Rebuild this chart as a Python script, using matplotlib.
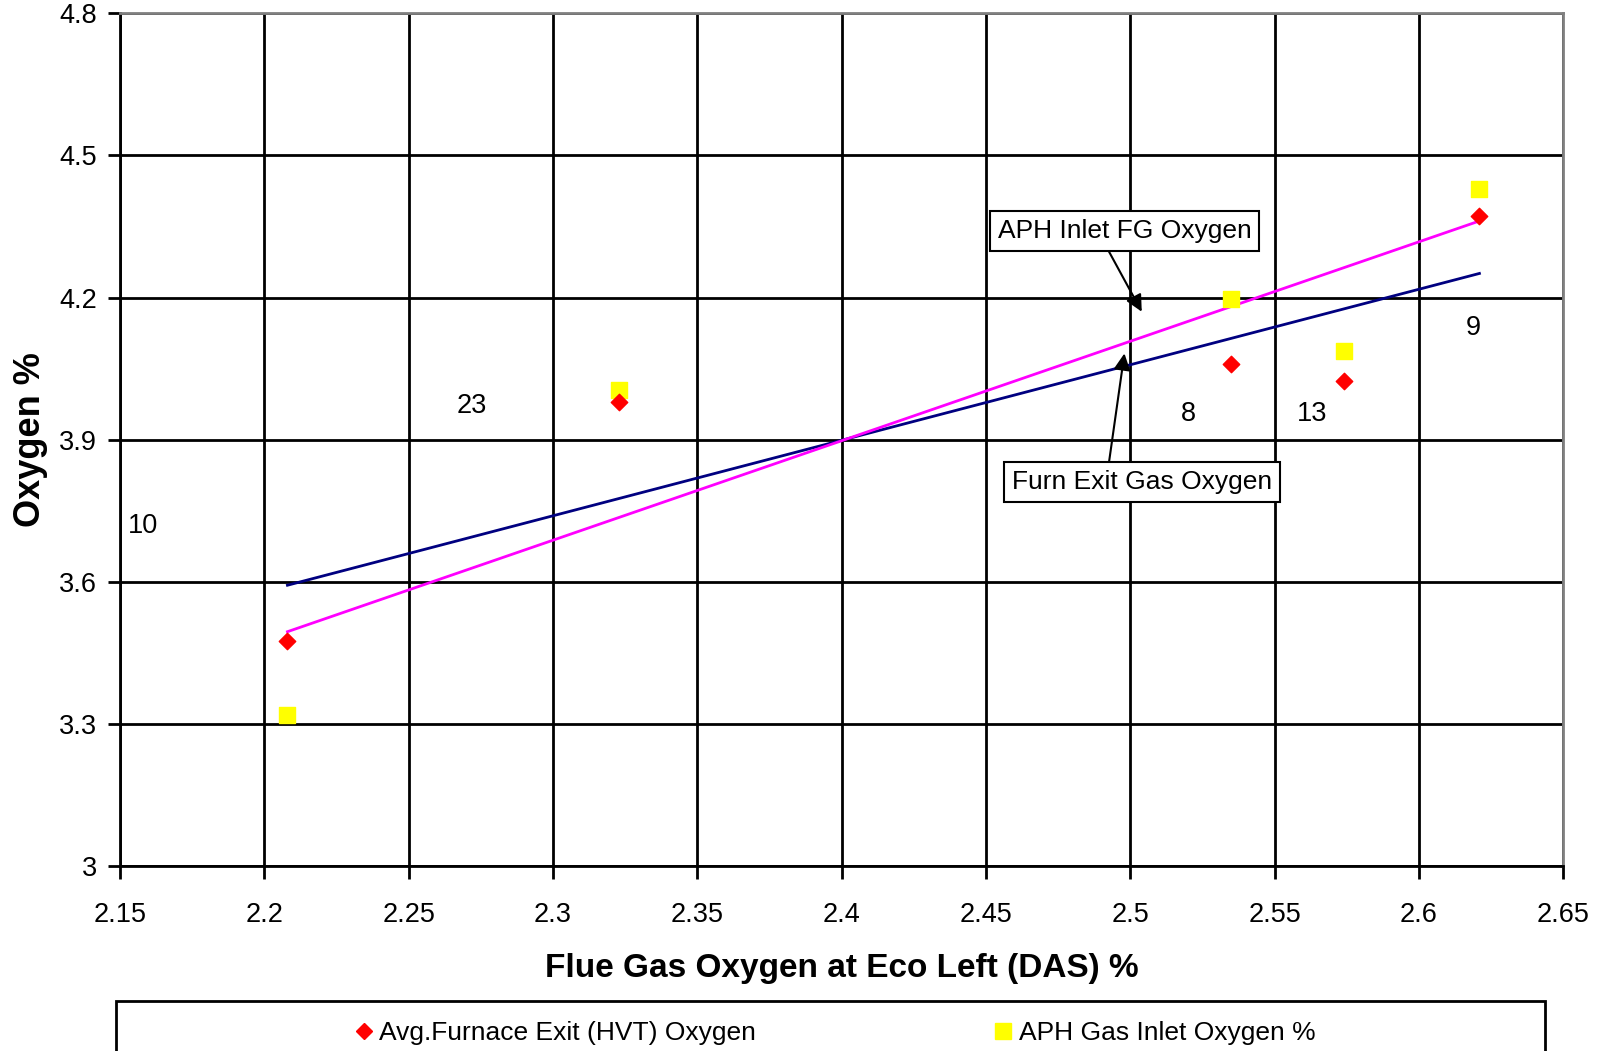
import numpy as np
import matplotlib
matplotlib.use("Agg")
import matplotlib.pyplot as plt
from matplotlib.patches import Rectangle
from matplotlib.lines import Line2D

plt.rcParams['font.family'] = ['Liberation Sans', 'DejaVu Sans']

# data
eco_left = [2.208, 2.323, 2.535, 2.574, 2.621]
furnace_exit = [3.474, 3.980, 4.060, 4.023, 4.372]
aph_inlet = [3.318, 4.004, 4.196, 4.088, 4.430]

point_labels = ['10', '23', '8', '13', '9']
label_x = [2.158, 2.272, 2.520, 2.563, 2.619]
label_y = [3.718, 3.971, 3.954, 3.954, 4.136]

xticks = [2.15, 2.2, 2.25, 2.3, 2.35, 2.4, 2.45, 2.5, 2.55, 2.6, 2.65]
yticks = [3, 3.3, 3.6, 3.9, 4.2, 4.5, 4.8]

fig = plt.figure(figsize=(16.07, 10.51), dpi=100)
ax = fig.add_axes([0.0747, 0.176, 0.898, 0.8114])

# linear trendlines
xs = np.array([min(eco_left), max(eco_left)])
k1, b1 = np.polyfit(eco_left, furnace_exit, 1)
k2, b2 = np.polyfit(eco_left, aph_inlet, 1)
ax.plot(xs, k1 * xs + b1, color='#000080', lw=2, zorder=3)
ax.plot(xs, k2 * xs + b2, color='#ff00ff', lw=2, zorder=3)

ax.scatter(eco_left, aph_inlet, marker='s', s=130, color='#ffff00', zorder=4)
ax.scatter(eco_left, furnace_exit, marker='D', s=70, color='#ff0000', zorder=5)

for t, x, y in zip(point_labels, label_x, label_y):
    ax.text(x, y, t, fontsize=19.5, ha='center', va='center')

ax.annotate('APH Inlet FG Oxygen', xy=(2.5040, 4.170), xytext=(2.498, 4.341),
            fontsize=19, ha='center', va='center',
            bbox=dict(boxstyle='square,pad=0.3', fc='white', ec='black', lw=1.5),
            arrowprops=dict(arrowstyle='-|>', color='black', lw=1.5, mutation_scale=25,
                            shrinkA=0, shrinkB=0, relpos=(0.42, 0)))
ax.annotate('Furn Exit Gas Oxygen', xy=(2.498, 4.082), xytext=(2.504, 3.811),
            fontsize=19, ha='center', va='center',
            bbox=dict(boxstyle='square,pad=0.3', fc='white', ec='black', lw=1.5),
            arrowprops=dict(arrowstyle='-|>', color='black', lw=1.5, mutation_scale=25,
                            shrinkA=0, shrinkB=0, relpos=(0.37, 1)))

ax.set_xlim(2.15, 2.65)
ax.set_ylim(3, 4.8)
ax.set_xticks(xticks)
ax.set_yticks(yticks)
ax.set_xticklabels([f'{v:g}' for v in xticks])
ax.set_yticklabels([f'{v:g}' for v in yticks])
ax.tick_params(labelsize=19.5, length=9, width=2, direction='out', pad=17)
ax.tick_params(axis='y', pad=7.5)
ax.grid(True, color='black', lw=2)
ax.set_axisbelow(True)
for s in ['left', 'bottom']:
    ax.spines[s].set_linewidth(2)
for s in ['top', 'right']:
    ax.spines[s].set_color('#808080')
    ax.spines[s].set_linewidth(2)

ax.set_xlabel('Flue Gas Oxygen at Eco Left (DAS) %', fontsize=24, fontweight='bold', labelpad=18)
ax.set_ylabel('Oxygen %', fontsize=26, fontweight='bold', labelpad=8)

# legend box running off the bottom edge
fig.add_artist(Rectangle((0.0722, -0.05), 0.8893, 0.0976, transform=fig.transFigure,
                         fc='white', ec='black', lw=2, clip_on=False))
handles = [Line2D([], [], ls='none', marker='D', ms=8, color='#ff0000'),
           Line2D([], [], ls='none', marker='s', ms=11, color='#ffff00')]
fig.legend(handles, ['Avg.Furnace Exit (HVT) Oxygen', 'APH Gas Inlet Oxygen %'],
           ncol=2, frameon=False, fontsize=19, loc='center', bbox_to_anchor=(0.52, 0.017),
           handlelength=0.6, handletextpad=0.3, columnspacing=9.05)

fig.savefig('out.png', dpi=100)
